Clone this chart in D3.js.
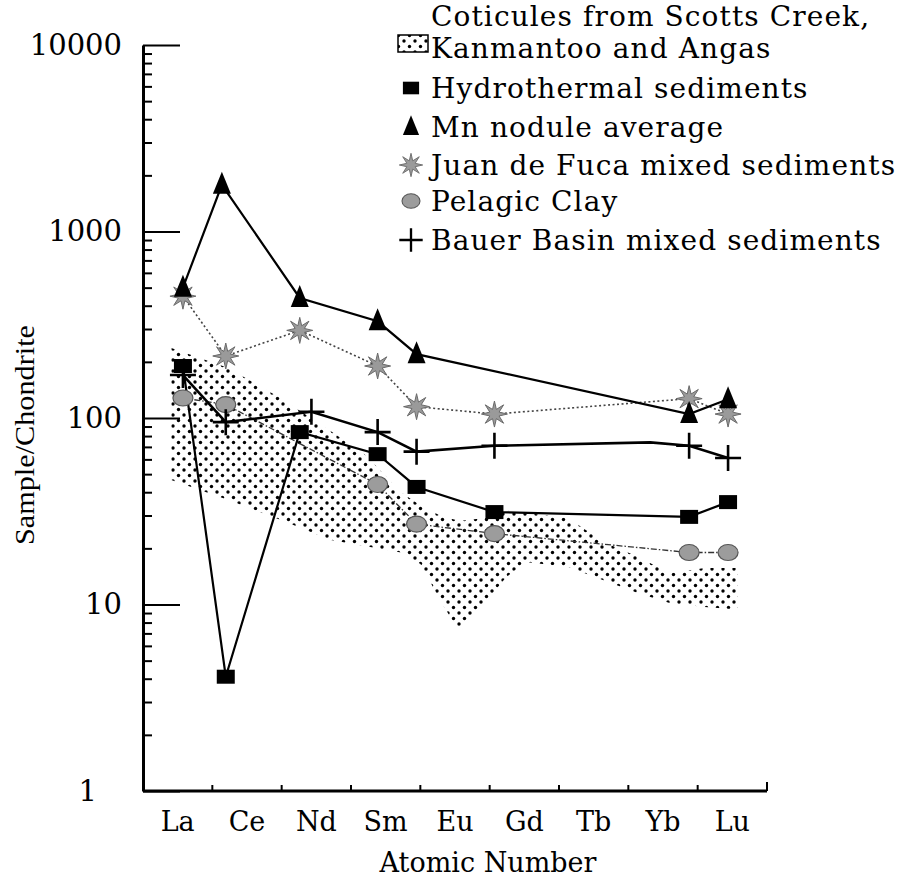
<!DOCTYPE html>
<html><head><meta charset="utf-8">
<script src="https://cdn.jsdelivr.net/npm/d3@7"></script>
<style>body{margin:0;background:#fff}</style>
</head><body>
<svg id="chart" width="914" height="890"></svg>
<script>
// ---------- data ----------
const elements = ["La","Ce","Nd","Sm","Eu","Gd","Tb","Yb","Lu"];
const yTickValues = [1,10,100,1000,10000];
// positions are offsets in atomic number from La as plotted in the figure
const hydroPos  = [0,1.1,3,5,6,8,13,14];
const hydroVals = [190,4.1,84,64,42.7,31.3,29.5,35.4];
const mnPos  = [0,1,3,5,6,13,14];
const mnVals = [500,1780,440,330,220,105,126];
const jdfPos  = [0,1.1,3,5,6,8,13,14];
const jdfVals = [450,215,295,190,115,105,127,105];
const pelPos  = [0,1.1,5,6,8,13,14];
const pelVals = [128,118,44,27,24,19,19];
const bauerPos  = [0,1.1,3.3,5,6,8,12,13,14];
const bauerVals = [170,95,108,84,66,71,74,71,61];
const bauerMarked = [1,1,1,1,1,1,0,1,1];
// coticule envelope
const bandPos   = [-0.3,1.15,2.5,3.8,4.7,5.6,6.1,6.6,7.1,7.7,8.3,8.8,9.9,10.8,11.7,12.5,13.4,14.25];
const bandUpper = [237,186,128,85,63,40,34,30,28,29,32,31,29,21.6,18,14.7,15.7,15.7];
const bandLower = [46.5,36.5,28.5,22.2,20.5,19,16.5,10.6,7.1,9.9,14,16.9,15.9,13.5,11.5,10.2,9.7,9.4];
const legendLabels = [
  ["Coticules from Scotts Creek,","Kanmantoo and Angas"],
  ["Hydrothermal sediments"],
  ["Mn nodule average"],
  ["Juan de Fuca mixed sediments"],
  ["Pelagic Clay"],
  ["Bauer Basin mixed sediments"]
];

// ---------- setup ----------
const svg = d3.select("#chart");
const serif = "'DejaVu Serif', serif";
const L = 143, R = 767, T = 45, B = 791;
const x = d3.scaleLinear().domain([-1,15]).range([L+1,R]);
const y = d3.scaleLog().domain([1,10000]).range([B,T]);
const band = d3.scaleBand().domain(elements).range([L,R]);

const defs = svg.append("defs");
const pat = defs.append("pattern").attr("id","dots").attr("patternUnits","userSpaceOnUse")
  .attr("width",11).attr("height",11);
pat.append("circle").attr("cx",2.5).attr("cy",2.5).attr("r",1.7).attr("fill","#000");
pat.append("circle").attr("cx",8).attr("cy",8).attr("r",1.7).attr("fill","#000");

// ---------- envelope ----------
const area = d3.area().x((d,i)=>x(bandPos[i])).y0((d,i)=>y(bandLower[i])).y1((d,i)=>y(bandUpper[i])).curve(d3.curveLinear);
svg.append("path").attr("d",area(bandPos)).attr("fill","url(#dots)");

// ---------- axes ----------
const yMajor = d3.axisLeft(y).tickValues(yTickValues).tickSize(-37).tickSizeOuter(0).tickPadding(21)
  .tickFormat(d3.format("d"));
const gy = svg.append("g").attr("transform",`translate(${L},0)`).call(yMajor);
gy.select(".domain").attr("stroke-width",3).attr("stroke","#000");
gy.selectAll(".tick line").attr("stroke-width",2);
gy.selectAll(".tick text").attr("font-family",serif).attr("font-size",29).attr("fill","#000")
  .attr("x",d=>d===1?-46:-21);
const minors = [];
for (let e=0;e<4;e++) for (let m=2;m<=9;m++) minors.push(m*Math.pow(10,e));
const gyMinor = svg.append("g").attr("transform",`translate(${L},0)`)
  .call(d3.axisLeft(y).tickValues(minors).tickSize(-9).tickFormat(""));
gyMinor.select(".domain").remove();
gyMinor.selectAll(".tick line").attr("stroke-width",2);

// bottom axis
const gx = svg.append("g").attr("transform",`translate(0,${B})`)
  .call(d3.axisBottom(band).tickSize(0).tickPadding(21));
gx.select(".domain").attr("stroke-width",3).attr("stroke","#000").attr("d",`M${L},0H${R}`);
gx.selectAll(".tick text").attr("font-family",serif).attr("font-size",27).attr("fill","#000");
svg.append("g").selectAll("line").data(elements).join("line")
  .attr("x1",d=>band(d)+band.bandwidth()).attr("x2",d=>band(d)+band.bandwidth())
  .attr("y1",B).attr("y2",(d,i)=>i===elements.length-1?B-9:B-6)
  .attr("stroke","#000").attr("stroke-width",2);

svg.append("text").attr("x",488).attr("y",872).attr("text-anchor","middle")
  .attr("font-family",serif).attr("font-size",27).text("Atomic Number");
svg.append("text").attr("transform","translate(34,435) rotate(-90)").attr("text-anchor","middle")
  .attr("font-family","'Liberation Serif', serif").attr("font-size",27)
  .attr("textLength",220).attr("lengthAdjust","spacingAndGlyphs").text("Sample/Chondrite");

// ---------- lines ----------
function drawLine(pos, vals, style){
  const ln = d3.line().x((d,i)=>x(pos[i])).y((d,i)=>y(vals[i]));
  svg.append("path").attr("d",ln(vals)).attr("fill","none")
    .attr("stroke",style.stroke).attr("stroke-width",style.w)
    .attr("stroke-dasharray",style.dash||null);
}
drawLine(pelPos, pelVals, {stroke:"#333", w:1.3, dash:"6,2,1.5,2"});
drawLine(jdfPos, jdfVals, {stroke:"#444", w:1.6, dash:"2,2.5"});
drawLine(hydroPos, hydroVals, {stroke:"#000", w:2.2});
drawLine(mnPos, mnVals, {stroke:"#000", w:2.2});
drawLine(bauerPos, bauerVals, {stroke:"#000", w:2.6});

// ---------- markers ----------
function starPath(ro, ri, n){
  const pts=[];
  for(let k=0;k<2*n;k++){const r=k%2?ri:ro; const a=Math.PI*k/n - Math.PI/2; pts.push([r*Math.cos(a), r*Math.sin(a)]);}
  return "M"+pts.map(p=>p.join(",")).join("L")+"Z";
}
const markers = {
  square: g=>g.append("rect").attr("x",-9).attr("y",-7).attr("width",18).attr("height",14).attr("fill","#000"),
  triangle: g=>g.append("path").attr("d","M0,-13L9,9L-9,9Z").attr("fill","#000"),
  star: g=>g.append("path").attr("d",starPath(13,5,8)).attr("fill","#9a9a9a").attr("stroke","#6a6a6a").attr("stroke-width",1),
  circle: g=>g.append("ellipse").attr("rx",10).attr("ry",8).attr("fill","#9c9c9c").attr("stroke","#555").attr("stroke-width",1.2),
  plus: g=>{g.append("path").attr("d","M-13,0H13M0,-13V13").attr("stroke","#000").attr("stroke-width",2.6);}
};
function drawMarkers(pos, vals, type, mask){
  vals.forEach((v,i)=>{
    if (mask && !mask[i]) return;
    const g = svg.append("g").attr("transform",`translate(${x(pos[i])},${y(v)})`);
    markers[type](g);
  });
}
drawMarkers(pelPos, pelVals, "circle");
drawMarkers(jdfPos, jdfVals, "star");
drawMarkers(hydroPos, hydroVals, "square");
drawMarkers(mnPos, mnVals, "triangle");
drawMarkers(bauerPos, bauerVals, "plus", bauerMarked);

// ---------- legend ----------
const legendTypes = ["band","square","triangle","star","circle","plus"];
const legendY = [43,88,127,165,201,240];
const lg = svg.append("g").attr("font-family",serif).attr("font-size",28).attr("letter-spacing",1.1);
legendTypes.forEach((t,i)=>{
  const cy = legendY[i];
  if (t==="band"){
    lg.append("rect").attr("x",398).attr("y",cy-8).attr("width",30).attr("height",17)
      .attr("fill","url(#dots)").attr("stroke","#000").attr("stroke-width",1.5);
    lg.append("text").attr("x",431).attr("y",26).text(legendLabels[i][0]);
    lg.append("text").attr("x",431).attr("y",58).text(legendLabels[i][1]);
  } else {
    const g = lg.append("g").attr("transform",`translate(411,${cy}) scale(0.9)`);
    markers[t](g);
    lg.append("text").attr("x",431).attr("y",cy+10).text(legendLabels[i][0]);
  }
});
</script>
</body></html>
